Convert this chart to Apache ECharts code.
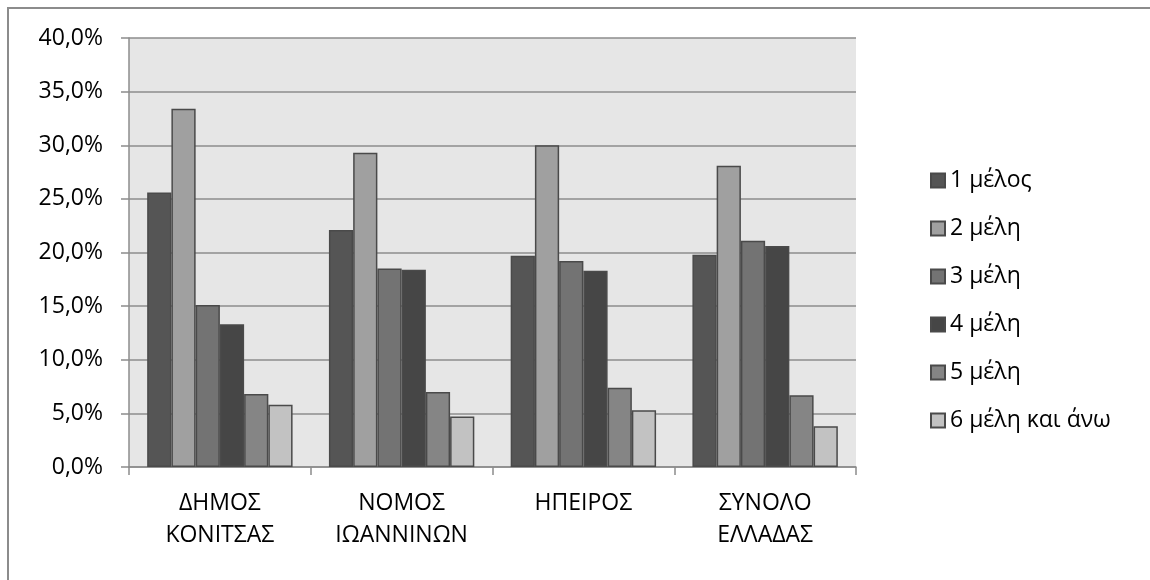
<!DOCTYPE html>
<html>
<head>
<meta charset="utf-8">
<script src="https://cdn.jsdelivr.net/npm/echarts@6/dist/echarts.min.js"></script>
<style>
html,body{margin:0;padding:0;background:#fff;}
#chart{width:1150px;height:580px;}
</style>
</head>
<body>
<div id="chart"></div>
<script>
const categories = ['ΔΗΜΟΣ\nΚΟΝΙΤΣΑΣ', 'ΝΟΜΟΣ\nΙΩΑΝΝΙΝΩΝ', 'ΗΠΕΙΡΟΣ', 'ΣΥΝΟΛΟ\nΕΛΛΑΔΑΣ'];
const seriesNames = ['1 μέλος', '2 μέλη', '3 μέλη', '4 μέλη', '5 μέλη', '6 μέλη και άνω'];
const member1 = [25.6, 22.1, 19.7, 19.8];
const member2 = [33.4, 29.3, 30.0, 28.1];
const member3 = [15.1, 18.5, 19.2, 21.1];
const member4 = [13.3, 18.4, 18.3, 20.6];
const member5 = [6.8, 7.0, 7.4, 6.7];
const member6 = [5.8, 4.7, 5.3, 3.8];
const seriesColors = ['#555555', '#a0a0a0', '#737373', '#464646', '#858585', '#c2c2c2'];

const allData = [member1, member2, member3, member4, member5, member6];
const FONT = '"Open Sans", sans-serif';

const chart = echarts.init(document.getElementById('chart'));
chart.setOption({
  animation: false,
  backgroundColor: '#ffffff',
  graphic: [{
    type: 'rect',
    shape: { x: 8, y: 8, width: 1170, height: 600 },
    style: { fill: 'none', stroke: '#8c8c8c', lineWidth: 2 },
    silent: true, z: -1
  }],
  grid: {
    left: 129, right: 294, top: 38, bottom: 113,
    show: true, backgroundColor: '#e6e6e6', borderWidth: 0
  },
  legend: {
    orient: 'vertical',
    left: 925, top: 164,
    itemWidth: 14, itemHeight: 14, itemGap: 25,
    icon: 'rect',
    textStyle: { fontFamily: FONT, fontSize: 23, color: '#000' },
    data: seriesNames
  },
  xAxis: {
    type: 'category',
    data: categories,
    axisLine: { show: true, lineStyle: { color: '#8c8c8c', width: 1.5 } },
    axisTick: { show: true, length: 8, lineStyle: { color: '#8c8c8c', width: 1.5 } },
    axisLabel: { fontFamily: FONT, fontSize: 23, color: '#000', margin: 20, lineHeight: 32 }
  },
  yAxis: {
    type: 'value',
    min: 0, max: 40, interval: 5,
    axisLine: { show: true, lineStyle: { color: '#8c8c8c', width: 1.5 } },
    axisTick: { show: true, length: 8, lineStyle: { color: '#8c8c8c', width: 1.5 } },
    splitLine: { show: true, lineStyle: { color: '#8c8c8c', width: 1.5 } },
    axisLabel: {
      fontFamily: FONT, fontSize: 23, color: '#000', margin: 26,
      formatter: v => v.toFixed(1).replace('.', ',') + '%'
    }
  },
  series: allData.map((d, i) => ({
    name: seriesNames[i],
    type: 'bar',
    data: d,
    barGap: '0%',
    barCategoryGap: '20%',
    itemStyle: { color: seriesColors[i], borderColor: '#4a4a4a', borderWidth: 1.5 }
  }))
});
</script>
</body>
</html>
